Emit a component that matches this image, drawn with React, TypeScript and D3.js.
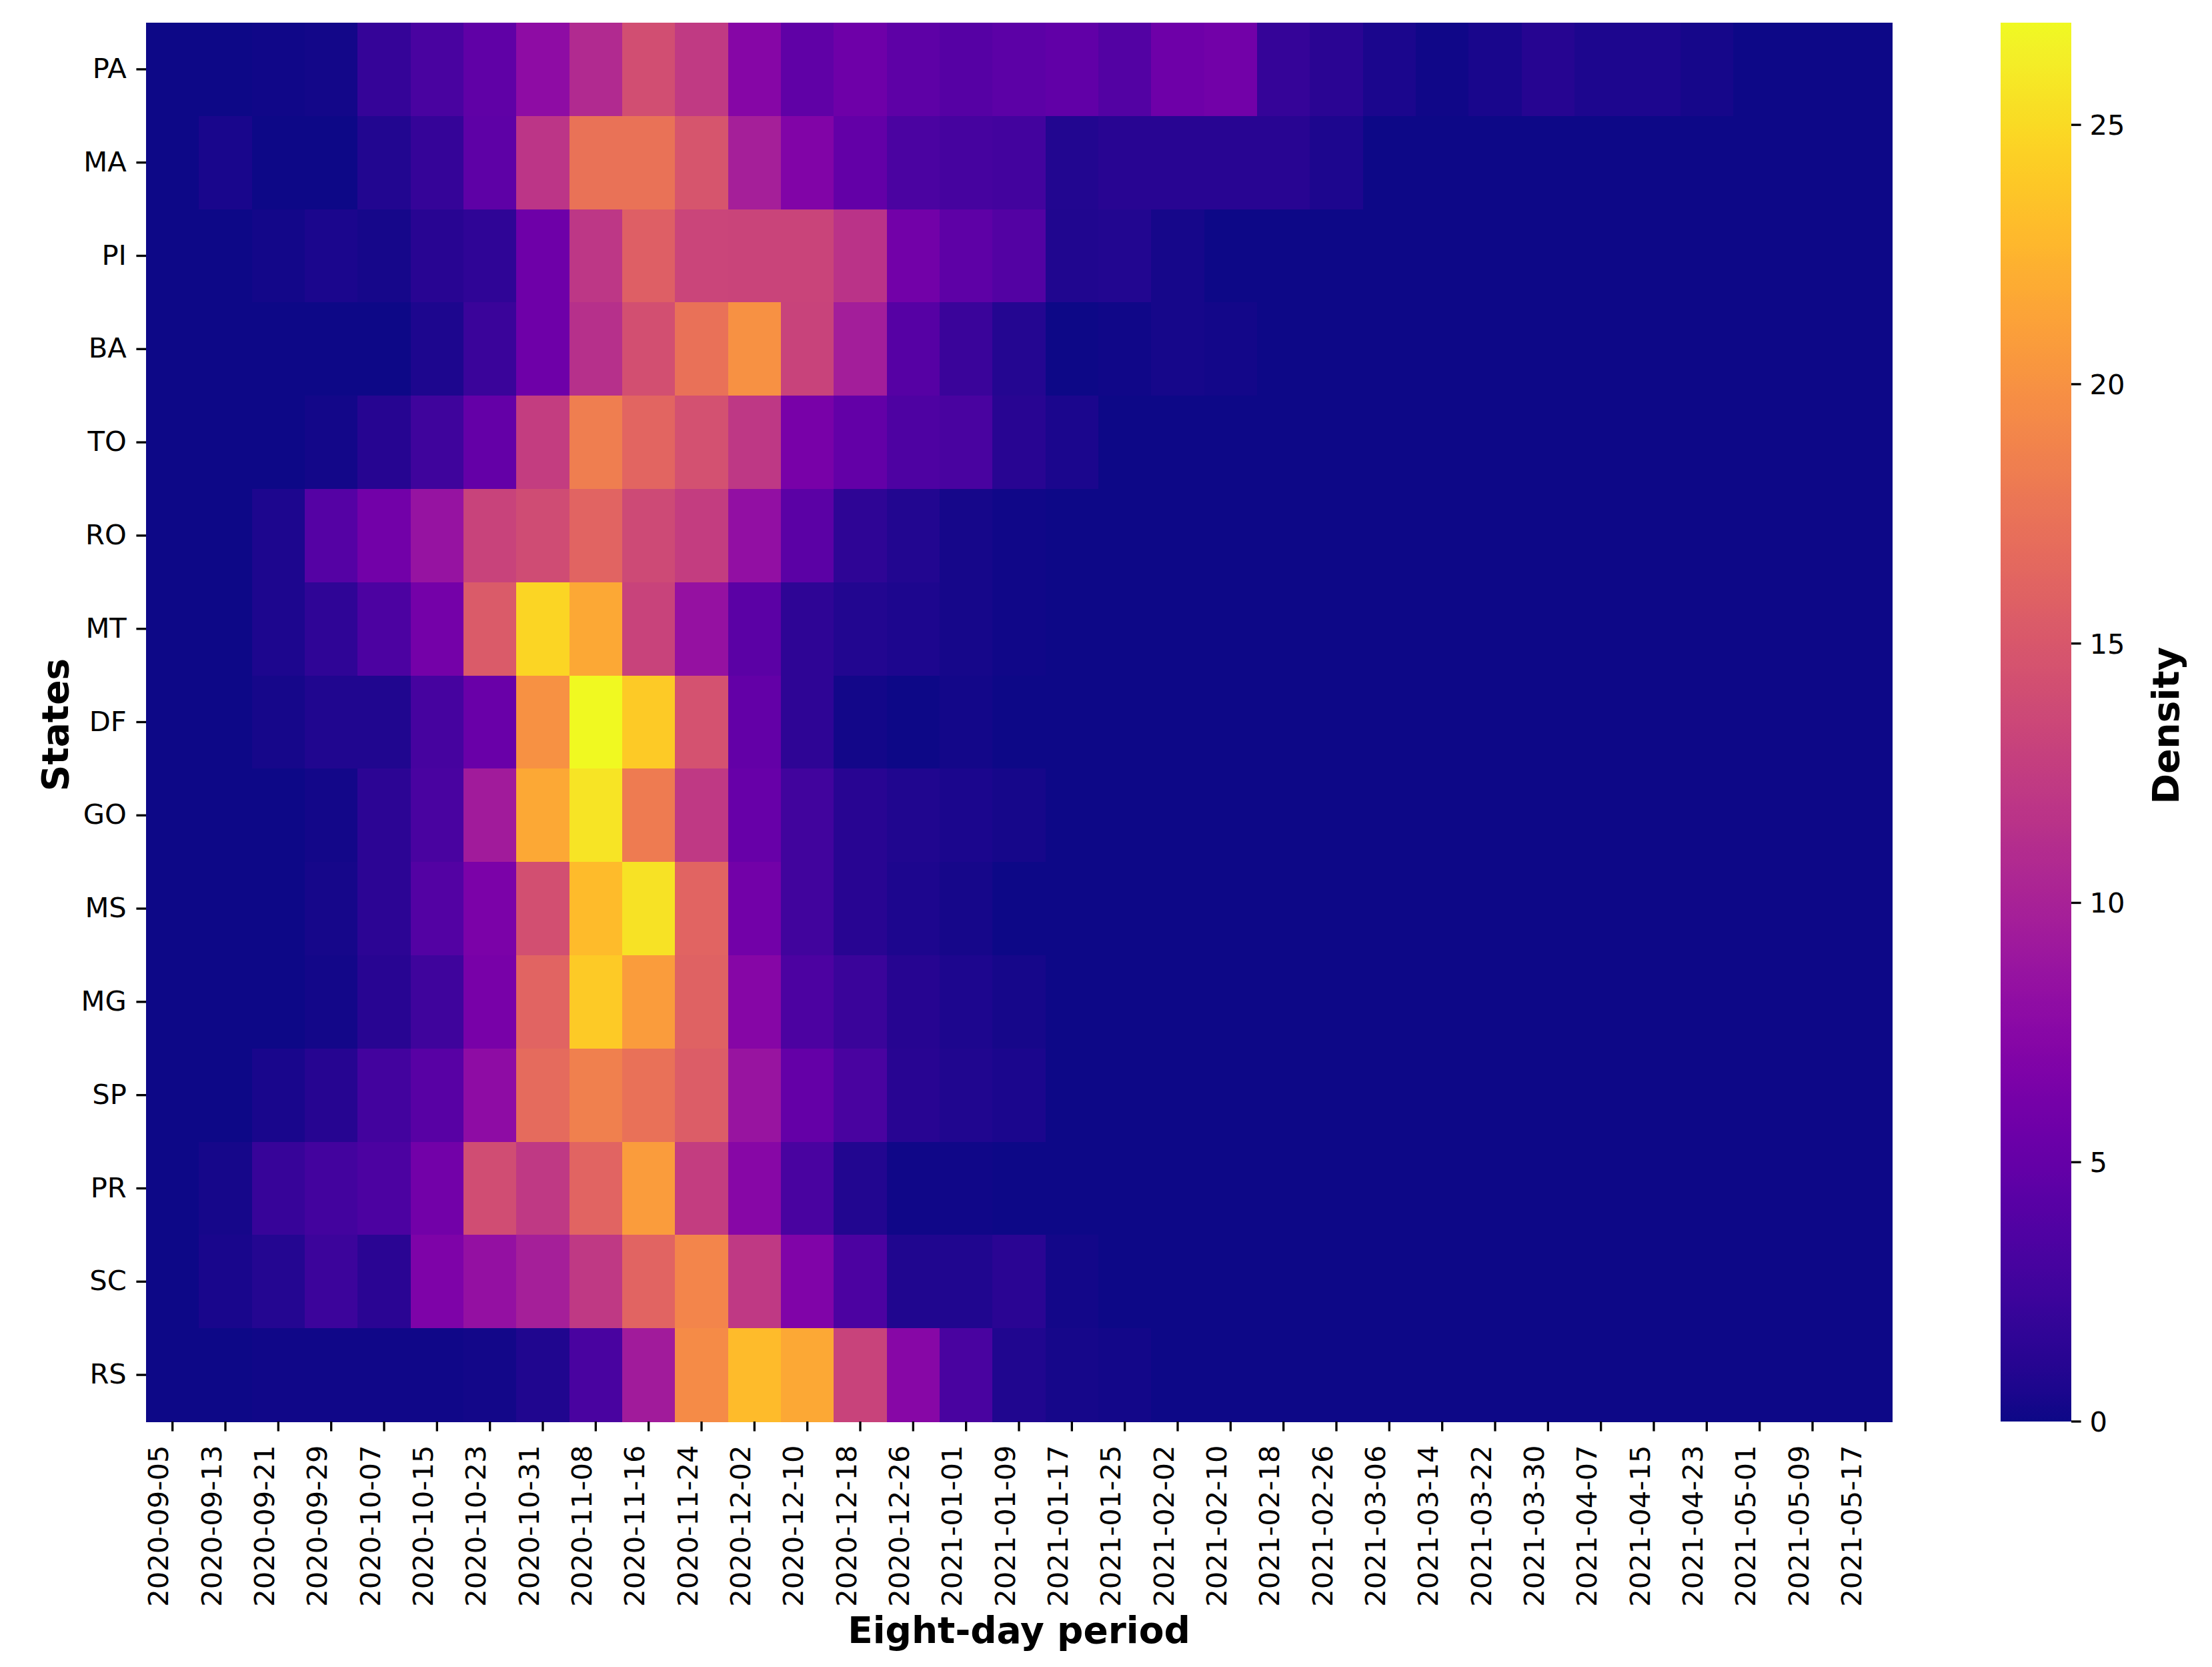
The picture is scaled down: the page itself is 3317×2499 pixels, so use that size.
import React from 'react';
import * as d3 from 'd3';

const STATES = ['PA', 'MA', 'PI', 'BA', 'TO', 'RO', 'MT', 'DF', 'GO', 'MS', 'MG', 'SP', 'PR', 'SC', 'RS'];

const PERIODS = [
  '2020-09-05', '2020-09-13', '2020-09-21', '2020-09-29', '2020-10-07', '2020-10-15', '2020-10-23',
  '2020-10-31', '2020-11-08', '2020-11-16', '2020-11-24', '2020-12-02', '2020-12-10', '2020-12-18',
  '2020-12-26', '2021-01-01', '2021-01-09', '2021-01-17', '2021-01-25', '2021-02-02', '2021-02-10',
  '2021-02-18', '2021-02-26', '2021-03-06', '2021-03-14', '2021-03-22', '2021-03-30', '2021-04-07',
  '2021-04-15', '2021-04-23', '2021-05-01', '2021-05-09', '2021-05-17',
];

const PA = [0, 0, 0.2, 0.3, 2.0, 3.2, 4.7, 8.0, 10.8, 14.2, 12.3, 7.3, 4.7, 5.6, 4.6, 4.1, 4.5, 4.8, 3.8, 5.6, 6.0, 2.0, 1.3, 0.6, 0.2, 0.5, 1.1, 0.7, 0.7, 0.4, 0, 0, 0.1];
const MA = [0, 0.5, 0, 0, 0.9, 2.0, 4.6, 11.8, 17.4, 17.4, 14.8, 9.7, 7.0, 4.9, 3.3, 3.0, 2.8, 0.9, 1.2, 1.2, 1.2, 1.2, 0.7, 0, 0, 0, 0, 0, 0, 0, 0, 0, 0];
const PI = [0, 0, 0.3, 0.6, 0.35, 1.2, 1.6, 5.6, 12.0, 15.8, 13.3, 13.2, 13.2, 11.6, 6.0, 4.6, 3.8, 0.8, 0.85, 0.35, 0, 0, 0, 0, 0, 0, 0, 0, 0, 0, 0, 0, 0];
const BA = [0, 0, 0, 0, 0, 0.7, 2.3, 5.6, 11.3, 14.3, 17.3, 20.0, 13.1, 9.6, 4.1, 2.3, 1.0, 0.05, 0.15, 0.35, 0.25, 0, 0, 0, 0, 0, 0, 0, 0, 0, 0, 0, 0];
const TO = [0, 0, 0, 0.3, 1.1, 2.6, 5.0, 12.6, 18.4, 16.3, 14.4, 12.1, 6.4, 4.9, 3.5, 3.2, 1.2, 0.6, 0, 0, 0, 0, 0, 0, 0, 0, 0, 0, 0, 0, 0, 0, 0];
const RO = [0, 0, 0.7, 4.0, 5.9, 8.6, 13.1, 14.0, 16.2, 13.8, 12.6, 8.3, 4.4, 1.5, 0.9, 0.4, 0.2, 0, 0, 0, 0, 0, 0, 0, 0, 0, 0, 0, 0, 0, 0, 0, 0];
const MT = [0, 0, 0.7, 1.6, 3.4, 6.1, 15.3, 24.7, 21.6, 13.1, 8.5, 4.4, 1.5, 0.9, 0.7, 0.4, 0.2, 0, 0, 0, 0, 0, 0, 0, 0, 0, 0, 0, 0, 0, 0, 0, 0];
const DF = [0, 0, 0.35, 0.8, 0.8, 3.0, 5.3, 20.0, 26.97, 24.0, 14.5, 4.9, 1.5, 0.3, 0.05, 0.3, 0, 0, 0, 0, 0, 0, 0, 0, 0, 0, 0, 0, 0, 0, 0, 0, 0];
const GO = [0, 0, 0.1, 0.3, 1.4, 3.2, 9.4, 21.6, 25.7, 18.2, 12.2, 5.2, 2.7, 1.2, 0.8, 0.6, 0.4, 0, 0, 0, 0, 0, 0, 0, 0, 0, 0, 0, 0, 0, 0, 0, 0];
const MS = [0, 0, 0.1, 0.4, 1.4, 3.8, 6.6, 14.3, 23.0, 25.6, 16.2, 5.9, 2.7, 1.2, 0.7, 0.35, 0.1, 0, 0, 0, 0, 0, 0, 0, 0, 0, 0, 0, 0, 0, 0, 0, 0];
const MG = [0, 0, 0, 0.3, 1.2, 2.6, 6.4, 16.2, 24.0, 20.8, 16.0, 7.3, 3.4, 2.3, 1.1, 0.7, 0.35, 0, 0, 0, 0, 0, 0, 0, 0, 0, 0, 0, 0, 0, 0, 0, 0];
const SP = [0, 0, 0.5, 1.1, 2.8, 4.2, 8.0, 16.8, 18.6, 17.3, 15.5, 8.7, 5.0, 3.2, 1.2, 0.8, 0.55, 0, 0, 0, 0, 0, 0, 0, 0, 0, 0, 0, 0, 0, 0, 0, 0];
const PR = [0, 0.35, 2.1, 2.8, 3.4, 5.9, 14.1, 12.2, 16.2, 20.8, 12.6, 7.4, 3.2, 0.9, 0.15, 0.15, 0, 0, 0, 0, 0, 0, 0, 0, 0, 0, 0, 0, 0, 0, 0, 0, 0];
const SC = [0, 0.5, 1.0, 2.4, 1.3, 6.8, 8.4, 9.7, 12.2, 16.2, 19.0, 12.2, 6.9, 3.4, 0.8, 0.8, 1.3, 0.3, 0, 0, 0, 0, 0, 0, 0, 0, 0, 0, 0, 0, 0, 0, 0];
const RS = [0, 0.1, 0.15, 0.15, 0.15, 0.15, 0.3, 0.8, 3.2, 9.4, 19.4, 23.0, 21.6, 13.1, 7.4, 3.2, 0.8, 0.35, 0.25, 0, 0, 0, 0, 0, 0, 0, 0, 0, 0, 0, 0, 0, 0];

const ROWS = [PA, MA, PI, BA, TO, RO, MT, DF, GO, MS, MG, SP, PR, SC, RS];

const COLORBAR_TICKS = [0, 5, 10, 15, 20, 25];

const W = 3317;
const H = 2499;
const PLOT = { left: 219, right: 2837, top: 34, bottom: 2131 };
const CBAR = { left: 3000, right: 3106 };
const FONT = '"DejaVu Sans", "Liberation Sans", sans-serif';
const TICK_FS = 41.67;
const LABEL_FS = 55;
const TICK_LEN = 14.6;
const TICK_W = 3.33;

export default function App() {
  React.useEffect(() => {
    document.body.style.margin = '0';
    document.body.style.overflow = 'hidden';
  }, []);

  const x = d3.scaleBand<string>().domain(PERIODS).range([PLOT.left, PLOT.right]).padding(0);
  const y = d3.scaleBand<string>().domain(STATES).range([PLOT.top, PLOT.bottom]).padding(0);
  const all = ROWS.flat();
  const vmin = d3.min(all) as number;
  const vmax = d3.max(all) as number;
  const color = d3.scaleSequential(d3.interpolatePlasma).domain([vmin, vmax]);
  const cbY = d3.scaleLinear().domain([vmin, vmax]).range([PLOT.bottom, PLOT.top]);
  const gradStops = d3.range(0, 101).map((i) => i / 100);

  const bw = x.bandwidth();
  const bh = y.bandwidth();

  return (
    <svg
      width={W}
      height={H}
      viewBox={`0 0 ${W} ${H}`}
      style={{ position: 'absolute', left: 0, top: 0, background: '#ffffff', display: 'block' }}
      fontFamily={FONT}
    >
      <defs>
        <linearGradient id="plasmaGrad" x1="0" y1="1" x2="0" y2="0">
          {gradStops.map((t) => (
            <stop key={t} offset={`${t * 100}%`} stopColor={d3.interpolatePlasma(t)} />
          ))}
        </linearGradient>
      </defs>
      <rect x={0} y={0} width={W} height={H} fill="#ffffff" />

      {/* heatmap cells */}
      <g shapeRendering="crispEdges">
        {ROWS.map((row, ri) =>
          row.map((v, ci) => (
            <rect
              key={`${ri}-${ci}`}
              x={x(PERIODS[ci])}
              y={y(STATES[ri])}
              width={bw + 0.6}
              height={bh + 0.6}
              fill={color(v)}
            />
          ))
        )}
      </g>

      {/* x ticks */}
      <g>
        {PERIODS.map((p) => {
          const cx = (x(p) as number) + bw / 2;
          return (
            <g key={p}>
              <line x1={cx} x2={cx} y1={PLOT.bottom} y2={PLOT.bottom + TICK_LEN} stroke="#000" strokeWidth={TICK_W} />
              <text
                transform={`translate(${cx - 6.5},${PLOT.bottom + TICK_LEN + 21}) rotate(-90)`}
                textAnchor="end"
                fontSize={TICK_FS}
                fill="#000"
              >
                {p}
              </text>
            </g>
          );
        })}
      </g>

      {/* y ticks */}
      <g>
        {STATES.map((s) => {
          const cy = (y(s) as number) + bh / 2;
          return (
            <g key={s}>
              <line x1={PLOT.left - TICK_LEN} x2={PLOT.left} y1={cy} y2={cy} stroke="#000" strokeWidth={TICK_W} />
              <text x={PLOT.left - TICK_LEN - 14.6} y={cy + 13} textAnchor="end" fontSize={TICK_FS} fill="#000">
                {s}
              </text>
            </g>
          );
        })}
      </g>

      {/* axis labels */}
      <text
        x={(PLOT.left + PLOT.right) / 2}
        y={2463}
        textAnchor="middle"
        fontSize={LABEL_FS}
        fontWeight="bold"
        fill="#000"
      >
        Eight-day period
      </text>
      <text
        transform={`translate(102,${(PLOT.top + PLOT.bottom) / 2 + 4}) rotate(-90)`}
        textAnchor="middle"
        fontSize={LABEL_FS}
        fontWeight="bold"
        fill="#000"
      >
        States
      </text>

      {/* colorbar */}
      <rect
        x={CBAR.left}
        y={PLOT.top}
        width={CBAR.right - CBAR.left}
        height={PLOT.bottom - PLOT.top}
        fill="url(#plasmaGrad)"
      />
      <g>
        {COLORBAR_TICKS.map((t) => {
          const ty = cbY(t);
          return (
            <g key={t}>
              <line x1={CBAR.right} x2={CBAR.right + TICK_LEN} y1={ty} y2={ty} stroke="#000" strokeWidth={TICK_W} />
              <text x={CBAR.right + TICK_LEN + 13} y={ty + 15} textAnchor="start" fontSize={TICK_FS} fill="#000">
                {t}
              </text>
            </g>
          );
        })}
      </g>
      <text
        transform={`translate(3267,${(PLOT.top + PLOT.bottom) / 2 + 5}) rotate(-90)`}
        textAnchor="middle"
        fontSize={LABEL_FS}
        fontWeight="bold"
        fill="#000"
      >
        Density
      </text>
    </svg>
  );
}
